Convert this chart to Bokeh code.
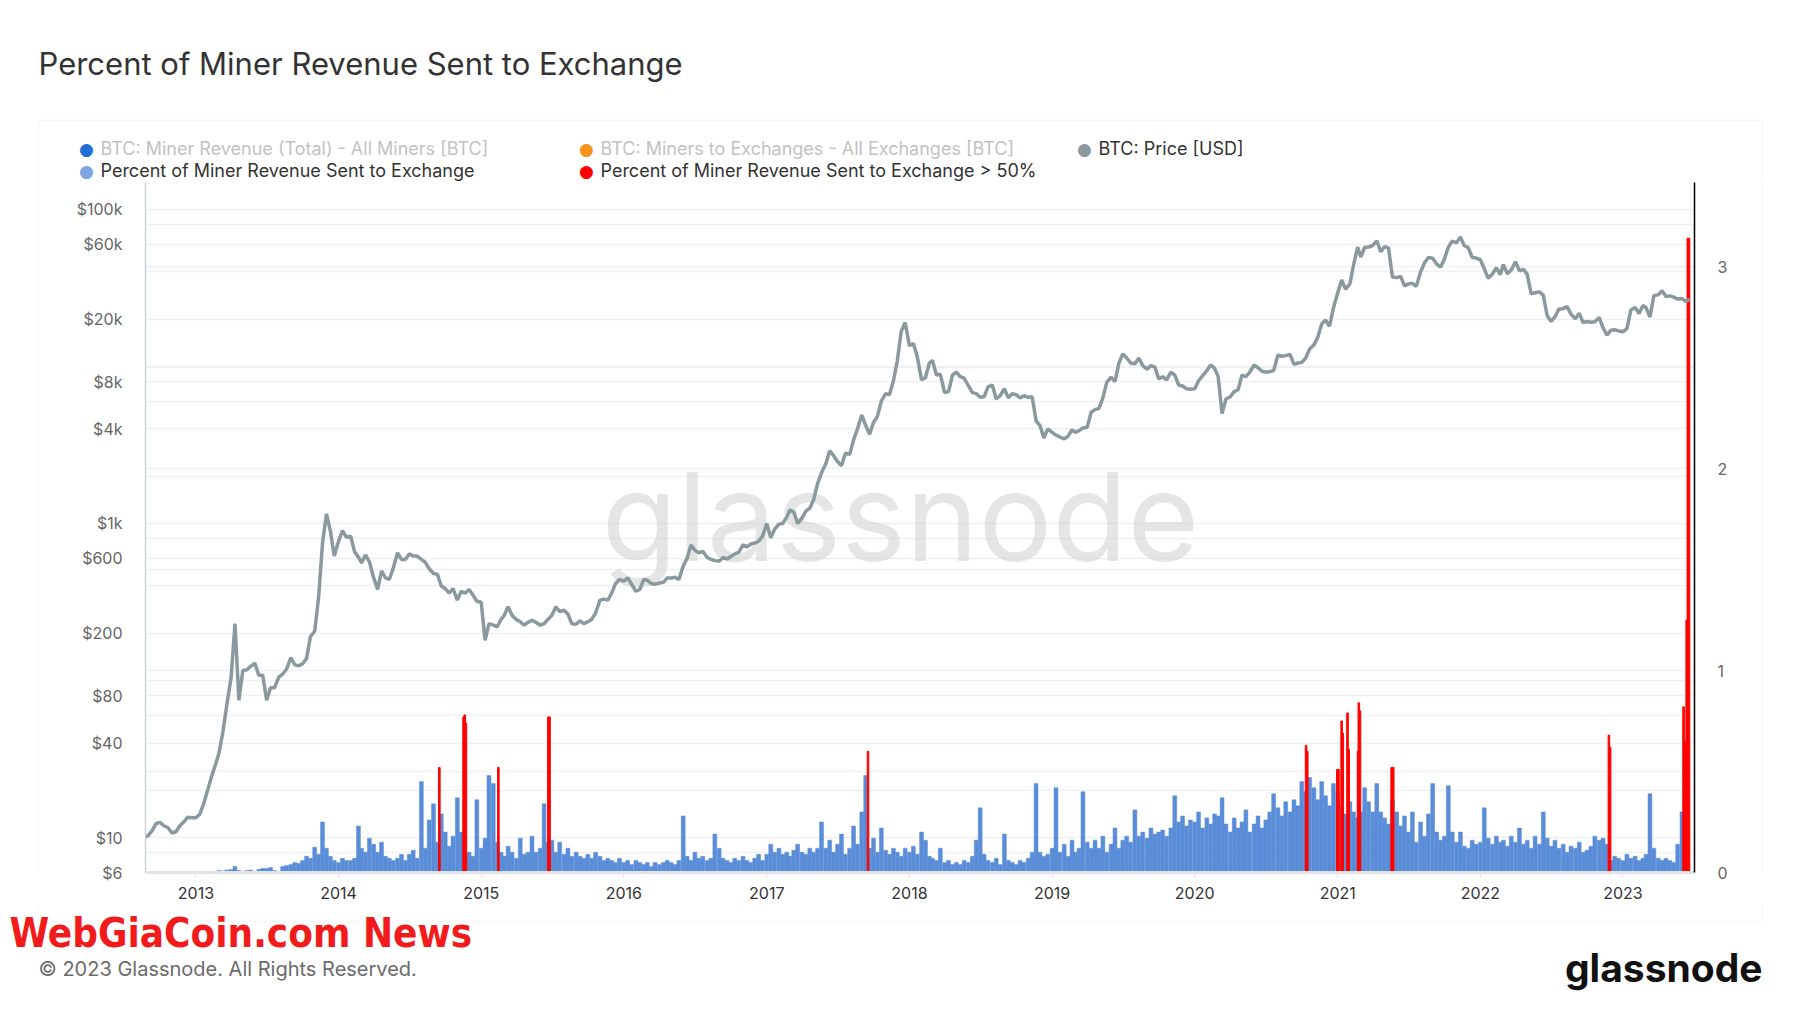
import datetime as dt
from bokeh.plotting import figure
from bokeh.layouts import column, row
from bokeh.models import (Range1d, LinearAxis, LinearScale, FixedTicker, Label, BoxAnnotation, Grid,
                          DatetimeTickFormatter)
from bokeh.embed import file_html
from bokeh.resources import INLINE

# ---------------- data ----------------
# price samples on the 1st / 11th / 21st of each month
price_2012 = [10.0, 10.3, 11.1, 12.3, 12.5, 11.9, 11.6, 10.7, 10.9, 11.9, 12.6, 13.5, 13.4]  # from Aug 21
price_2013 = [13.4, 14.1, 16.5, 20.4, 25.0, 29.6, 34.5, 47.0, 70.0, 104, 230, 75, 116, 117, 123, 129, 108, 108,
              75, 90, 90, 105, 110, 118, 140, 126, 124, 128, 138, 190, 206, 340, 750, 1150, 900, 620]
price_2014 = [770, 900, 820, 830, 660, 610, 560, 630, 570, 450, 380, 500, 450, 440, 520, 650, 590, 590,
              640, 620, 620, 590, 565, 515, 480, 475, 400, 385, 360, 385, 325, 370, 360, 380, 350, 320]
price_2015 = [315, 180, 230, 225, 220, 245, 260, 295, 260, 245, 237, 225, 235, 242, 235, 225, 230, 245,
              260, 295, 275, 280, 265, 230, 228, 240, 230, 237, 245, 270, 325, 330, 325, 360, 415, 440]
price_2016 = [430, 450, 410, 370, 380, 440, 435, 415, 410, 417, 422, 450, 450, 455, 440, 535, 600, 730,
              675, 650, 665, 610, 590, 580, 575, 607, 595, 615, 640, 655, 730, 710, 740, 750, 770, 830]
price_2017 = [1000, 810, 920, 990, 1000, 1100, 1220, 1180, 1000, 1080, 1200, 1250, 1420, 1800, 2100, 2400, 2900, 2700,
              2480, 2330, 2800, 2750, 3400, 4000, 4900, 4200, 3700, 4400, 4800, 6000, 6700, 6600, 8100, 10900, 16700, 19000]
price_2018 = [13500, 14000, 11500, 8200, 8500, 10500, 10900, 8800, 8900, 6800, 6900, 8800, 9200, 8600, 8400, 7500, 6800, 6700,
              6350, 6400, 7400, 7600, 6200, 6500, 7200, 6300, 6700, 6600, 6300, 6500, 6350, 6400, 4500, 4200, 3500, 4000]
price_2019 = [3800, 3650, 3550, 3450, 3600, 3950, 3800, 3900, 4050, 4100, 5100, 5300, 5400, 6300, 7900, 8550, 8000, 10500,
              12000, 11300, 10500, 10400, 11300, 10100, 9600, 10100, 9900, 8300, 8600, 8200, 9200, 8800, 7600, 7500, 7200, 7150]
price_2020 = [7200, 8100, 8700, 9400, 10200, 9700, 8600, 5000, 6200, 6400, 6900, 7100, 8800, 8600, 9200, 10200, 9800, 9300,
              9200, 9250, 9400, 11800, 11600, 11700, 11900, 10300, 10500, 10600, 11300, 12900, 13700, 15300, 18600, 19700, 18000, 23500]
price_2021 = [29400, 35500, 31000, 33500, 44800, 57400, 49600, 57300, 57500, 58800, 63000, 53800, 57800, 56700, 37000, 36700, 37300, 32500,
              33500, 33800, 32300, 39900, 45600, 49300, 48800, 44900, 42800, 48200, 57400, 62600, 61300, 66500, 58600, 57000, 49400, 48900]
price_2022 = [47700, 41800, 36300, 38700, 42400, 38400, 44400, 38800, 41000, 46300, 40500, 41400, 38500, 28900, 29400, 29800, 28400, 21000,
              19300, 20700, 23200, 23300, 24000, 21500, 20100, 21800, 19000, 19300, 19100, 19200, 20500, 17600, 15800, 17000, 17100, 16800]
price_2023 = [16600, 17400, 22800, 23700, 21700, 24400, 23600, 20600, 28200, 28500, 30300, 27800, 28100, 27600, 26800, 27000, 25900, 26800]

# percent of miner revenue sent to exchange (ratio), 10-day samples from 2013-01-01
pct_2013 = [0, 0, 0, 0, 0, 0, 0.01, 0.008, 0.012, 0.015, 0.03, 0.01, 0, 0.01, 0.012, 0, 0.015, 0.02,
            0.02, 0.025, 0.01, 0, 0.03, 0.035, 0.04, 0.05, 0.045, 0.06, 0.08, 0.07, 0.125, 0.09, 0.25, 0.12, 0.08, 0.06]
pct_2014 = [0.05, 0.07, 0.06, 0.06, 0.07, 0.23, 0.12, 0.10, 0.17, 0.14, 0.10, 0.15, 0.08, 0.07, 0.06, 0.07, 0.09, 0.06,
            0.09, 0.11, 0.07, 0.45, 0.12, 0.26, 0.34, 0.15, 0.29, 0.20, 0.13, 0.18, 0.37, 0.20, 0.08, 0.10, 0.08, 0.36]
pct_2015 = [0.12, 0.17, 0.48, 0.44, 0.15, 0.10, 0.08, 0.13, 0.10, 0.07, 0.17, 0.09, 0.10, 0.18, 0.10, 0.12, 0.34, 0.15,
            0.16, 0.10, 0.15, 0.09, 0.12, 0.08, 0.10, 0.08, 0.07, 0.09, 0.07, 0.10, 0.08, 0.06, 0.07, 0.06, 0.05, 0.07]
pct_2016 = [0.05, 0.06, 0.04, 0.06, 0.05, 0.04, 0.05, 0.03, 0.05, 0.04, 0.05, 0.06, 0.05, 0.04, 0.06, 0.28, 0.08, 0.06,
            0.10, 0.07, 0.08, 0.06, 0.07, 0.19, 0.12, 0.07, 0.06, 0.05, 0.07, 0.06, 0.08, 0.06, 0.05, 0.07, 0.09, 0.06]
pct_2017 = [0.09, 0.14, 0.10, 0.12, 0.09, 0.10, 0.08, 0.11, 0.14, 0.10, 0.09, 0.12, 0.10, 0.12, 0.25, 0.12, 0.16, 0.10,
            0.14, 0.19, 0.09, 0.12, 0.23, 0.14, 0.30, 0.48, 0.12, 0.17, 0.10, 0.22, 0.11, 0.09, 0.12, 0.10, 0.08, 0.12]
pct_2018 = [0.10, 0.13, 0.09, 0.20, 0.16, 0.08, 0.07, 0.06, 0.12, 0.05, 0.06, 0.04, 0.05, 0.04, 0.06, 0.05, 0.08, 0.16,
            0.32, 0.09, 0.06, 0.05, 0.07, 0.04, 0.19, 0.06, 0.05, 0.04, 0.06, 0.05, 0.07, 0.10, 0.44, 0.10, 0.08, 0.09]
pct_2019 = [0.12, 0.42, 0.10, 0.14, 0.08, 0.16, 0.10, 0.12, 0.40, 0.15, 0.12, 0.16, 0.12, 0.18, 0.10, 0.14, 0.22, 0.12,
            0.16, 0.18, 0.15, 0.31, 0.18, 0.20, 0.17, 0.22, 0.19, 0.20, 0.21, 0.18, 0.22, 0.38, 0.25, 0.28, 0.23, 0.26]
pct_2020 = [0.25, 0.30, 0.22, 0.27, 0.24, 0.29, 0.28, 0.37, 0.24, 0.20, 0.27, 0.22, 0.25, 0.31, 0.20, 0.24, 0.28, 0.22,
            0.26, 0.30, 0.39, 0.32, 0.28, 0.35, 0.30, 0.36, 0.33, 0.45, 0.40, 0.47, 0.42, 0.36, 0.45, 0.38, 0.33, 0.44]
pct_2021 = [0.40, 0.33, 0.29, 0.35, 0.30, 0.27, 0.30, 0.42, 0.35, 0.30, 0.44, 0.30, 0.27, 0.24, 0.36, 0.30, 0.23, 0.28,
            0.20, 0.30, 0.15, 0.25, 0.18, 0.29, 0.44, 0.20, 0.16, 0.18, 0.43, 0.20, 0.15, 0.20, 0.13, 0.12, 0.16, 0.14]
pct_2022 = [0.15, 0.32, 0.17, 0.14, 0.18, 0.15, 0.16, 0.13, 0.18, 0.15, 0.22, 0.14, 0.16, 0.12, 0.18, 0.14, 0.30, 0.17,
            0.13, 0.16, 0.12, 0.14, 0.10, 0.13, 0.12, 0.15, 0.10, 0.11, 0.13, 0.18, 0.16, 0.17, 0.14, 0.06, 0.08, 0.07]
pct_2023 = [0.06, 0.09, 0.07, 0.08, 0.06, 0.07, 0.09, 0.39, 0.12, 0.07, 0.06, 0.07, 0.06, 0.05, 0.14, 0.30, 0.32]

# days above 50 %
spike_dates = ["2014-09-16", "2014-11-17", "2014-11-20", "2014-11-23", "2015-02-14", "2015-06-22", "2015-06-25",
               "2017-09-17", "2020-10-12", "2020-10-15", "2020-12-31", "2021-01-03", "2021-01-11", "2021-01-14",
               "2021-01-26", "2021-01-29", "2021-02-22", "2021-02-24", "2021-02-27", "2021-05-19", "2021-05-23",
               "2022-11-26", "2022-11-29", "2023-06-05", "2023-06-08", "2023-06-13", "2023-06-16", "2023-06-19"]
spike_values = [0.52, 0.77, 0.78, 0.74, 0.52, 0.77, 0.77,
                0.60, 0.63, 0.60, 0.51, 0.51, 0.75, 0.69,
                0.79, 0.61, 0.60, 0.84, 0.80, 0.52, 0.52,
                0.68, 0.62, 0.82, 0.65, 1.25, 3.14, 3.14]

year_ticks = list(range(2013, 2024))
price_ticks = [6, 8, 10, 20, 40, 60, 80, 100, 200, 400, 600, 800, 1000, 2000, 4000, 6000, 8000,
               10000, 20000, 40000, 60000, 80000, 100000]
price_labels = {6: "$6", 10: "$10", 40: "$40", 80: "$80", 200: "$200", 600: "$600", 1000: "$1k",
                4000: "$4k", 8000: "$8k", 20000: "$20k", 60000: "$60k", 100000: "$100k"}
pct_ticks = [0, 0.5, 1, 1.5, 2, 2.5, 3]
pct_labels = {0: "0", 1: "1", 2: "2", 3: "3"}

# ---------------- helpers ----------------
DAYS = (1, 11, 21)


def grid_dates(year, first_idx, n):
    out = []
    for k in range(n):
        i = first_idx + k
        out.append(dt.datetime(year, i // 3 + 1, DAYS[i % 3]))
    return out


price_years = [(2012, 23, price_2012), (2013, 0, price_2013), (2014, 0, price_2014), (2015, 0, price_2015),
               (2016, 0, price_2016), (2017, 0, price_2017), (2018, 0, price_2018), (2019, 0, price_2019),
               (2020, 0, price_2020), (2021, 0, price_2021), (2022, 0, price_2022), (2023, 0, price_2023)]
pct_years = [(2013, pct_2013), (2014, pct_2014), (2015, pct_2015), (2016, pct_2016), (2017, pct_2017),
             (2018, pct_2018), (2019, pct_2019), (2020, pct_2020), (2021, pct_2021), (2022, pct_2022),
             (2023, pct_2023)]

px, py = [], []
for yr, first, vals in price_years:
    px += grid_dates(yr, first, len(vals))
    py += vals

bx, by = [], []
for yr, vals in pct_years:
    bx += grid_dates(yr, 0, len(vals))
    by += vals

sx = [dt.datetime.strptime(d, "%Y-%m-%d") for d in spike_dates]

DAY_MS = 86400000
W, H = 1800, 1013
HEAD_H = 182          # page y where the plot frame starts
FOOT_Y = 906          # page y where the footer strip starts
STRIP_W = 60
MAIN_H = FOOT_Y - HEAD_H
FOOT_H = H - FOOT_Y
BOX = dict(left=38, right=1762, top=120, bottom=921)


def blank_fig(w, h):
    f = figure(width=w, height=h, x_range=Range1d(0, w), y_range=Range1d(0, h),
               output_backend="svg", toolbar_location=None, min_border=0,
               x_axis_location=None, y_axis_location=None)
    f.grid.visible = False
    f.outline_line_color = None
    f.background_fill_color = "white"
    f.border_fill_color = "white"
    return f


def lab(f, x, y, text, size, color, align="left", style="normal", font="Inter"):
    f.add_layout(Label(x=x, y=y, x_units="screen", y_units="screen", text=text,
                       text_font=font, text_font_size=size, text_color=color,
                       text_align=align, text_baseline="middle", text_font_style=style))


def box(f, left, right, top, bottom):
    f.add_layout(BoxAnnotation(left=left, right=right, top=top, bottom=bottom,
                               left_units="screen", right_units="screen", top_units="screen",
                               bottom_units="screen", fill_alpha=0, line_color="#e3e3e3",
                               line_width=1.5))


# ---------------- header (title + legend) ----------------
head = blank_fig(W, HEAD_H)
box(head, BOX["left"], BOX["right"], HEAD_H - BOX["top"], -50)
lab(head, 38, HEAD_H - 63, "Percent of Miner Revenue Sent to Exchange", "31px", "#333333")
legend_items = [
    (86, 148, "#1f6fd6", "BTC: Miner Revenue (Total) - All Miners [BTC]", "#c2c2c2"),
    (586, 148, "#f7931a", "BTC: Miners to Exchanges - All Exchanges [BTC]", "#c2c2c2"),
    (1084, 148, "#8a999d", "BTC: Price [USD]", "#333333"),
    (86, 170, "#7ea6e3", "Percent of Miner Revenue Sent to Exchange", "#333333"),
    (586, 170, "#ff0000", "Percent of Miner Revenue Sent to Exchange > 50%", "#333333"),
]
for dx, dy, dcol, txt, tcol in legend_items:
    lab(head, dx, HEAD_H - dy, "\u25CF", "17px", dcol, align="center", font="DejaVu Sans")
    lab(head, dx + 14, HEAD_H - dy, txt, "18px", tcol)

# ---------------- side strips (box edges) ----------------
lstrip = blank_fig(STRIP_W, MAIN_H)
box(lstrip, BOX["left"], 500, MAIN_H + 50, -50)
rstrip = blank_fig(STRIP_W, MAIN_H)
box(rstrip, -500, BOX["right"] - (W - STRIP_W), MAIN_H + 50, -50)

# ---------------- main chart ----------------
FL, FB = 145, 872   # frame left / bottom (page px)
p = figure(width=W - 2 * STRIP_W, height=MAIN_H, x_axis_type="datetime", y_axis_type="log",
           x_range=Range1d(dt.datetime(2012, 8, 25), dt.datetime(2023, 7, 3)),
           y_range=Range1d(6, 148000),
           output_backend="svg", toolbar_location=None,
           min_border_left=FL - STRIP_W, min_border_right=(W - STRIP_W) - 1694,
           min_border_top=0, min_border_bottom=FOOT_Y - FB)
p.extra_y_ranges = {"pct": Range1d(0, 3.416)}
p.extra_y_scales = {"pct": LinearScale()}
p.outline_line_color = None
p.background_fill_color = "white"
p.border_fill_color = "white"

la = p.left[0]
la.ticker = FixedTicker(ticks=price_ticks)
la.major_label_overrides = {t: price_labels.get(t, "") for t in price_ticks}
la.axis_line_color = "#ccd3d9"
la.axis_line_width = 1.5
la.major_tick_line_color = None
la.minor_tick_line_color = None
la.major_label_standoff = 17
la.major_label_text_font = "Inter"
la.major_label_text_font_size = "16px"
la.major_label_text_color = "#666666"

p.ygrid.ticker = FixedTicker(ticks=price_ticks)
p.ygrid.grid_line_color = "#f0f0f0"
p.ygrid.grid_line_width = 1.5
p.xgrid.visible = False

ra = LinearAxis(y_range_name="pct", ticker=FixedTicker(ticks=pct_ticks))
ra.major_label_overrides = {t: pct_labels.get(t, "") for t in pct_ticks}
ra.axis_line_color = "#000000"
ra.axis_line_width = 1.5
ra.major_tick_line_color = None
ra.minor_tick_line_color = None
ra.major_label_standoff = 17
ra.major_label_text_font = "Inter"
ra.major_label_text_font_size = "16px"
ra.major_label_text_color = "#666666"
p.add_layout(ra, "right")
p.add_layout(Grid(dimension=1, ticker=FixedTicker(ticks=pct_ticks), y_range_name="pct",
                  grid_line_color="#f0f0f0", grid_line_width=1.5))

xa = p.below[0]
xa.ticker = FixedTicker(ticks=[dt.datetime(y, 1, 1).timestamp() * 1000 for y in year_ticks])
xa.formatter = DatetimeTickFormatter(years="%Y", months="%Y", days="%Y", hours="%Y", minutes="%Y")
xa.axis_line_color = "#e3e3e3"
xa.axis_line_width = 3
xa.major_tick_line_color = "#e3e3e3"
xa.major_tick_in = 0
xa.major_tick_out = 5
xa.minor_tick_line_color = None
xa.major_label_standoff = 9
xa.major_label_text_font = "Inter"
xa.major_label_text_font_size = "16px"
xa.major_label_text_color = "#333333"

# watermark
p.add_layout(Label(x=900 - FL, y=FB - 516, x_units="screen", y_units="screen", text="glassnode",
                   text_font="Inter", text_font_size="123px", text_color="#cfcfcf", text_alpha=0.55,
                   text_align="center", text_baseline="alphabetic", level="underlay"))

p.vbar(x=bx, top=by, bottom=0, width=10 * DAY_MS, y_range_name="pct",
       fill_color="#5a8dd8", line_color="#5a8dd8", line_width=0.5)
p.vbar(x=sx, top=spike_values, bottom=0, width=4 * DAY_MS, y_range_name="pct",
       fill_color="#ff0000", line_color="#ff0000", line_width=1)
p.line(px, py, line_color="#8a999d", line_width=3.5)

# ---------------- footer ----------------
foot = blank_fig(W, FOOT_H)
box(foot, BOX["left"], BOX["right"], FOOT_H + 50, H - BOX["bottom"])
lab(foot, 9, H - 932, "WebGiaCoin.com News", "40px", "#f21b1b", style="bold",
    font="Liberation Sans Narrow, DejaVu Sans Condensed, sans-serif")
lab(foot, 38, H - 968, "\u00A9 2023 Glassnode. All Rights Reserved.", "20px", "#6b6b6b")
lab(foot, 1762, H - 967, "glassnode", "39px", "#111111", align="right", style="bold")

layout = column(head, row(lstrip, p, rstrip), foot)
open("out.html", "w").write(file_html(layout, INLINE))
